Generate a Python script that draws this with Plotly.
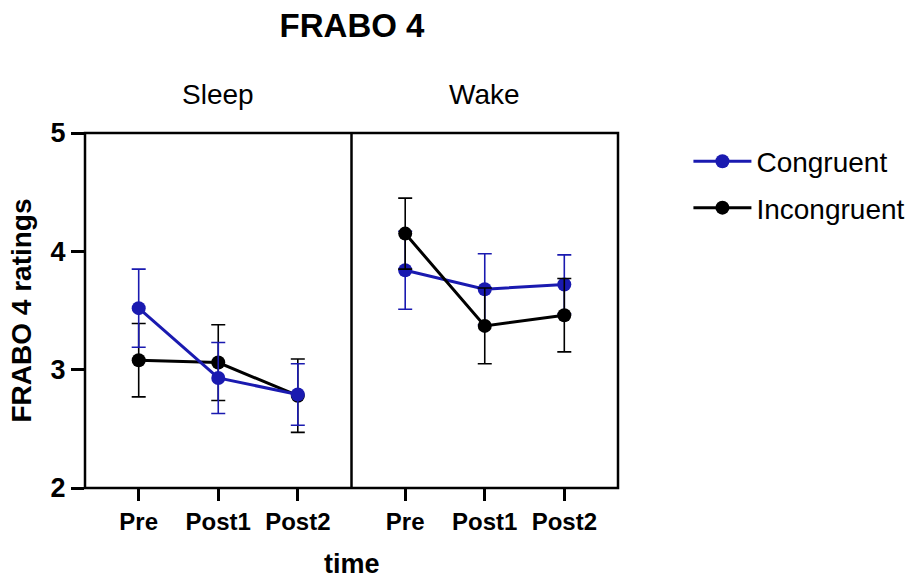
import plotly.graph_objects as go
from plotly.subplots import make_subplots

categories = ["Pre", "Post1", "Post2"]
panels = ["Sleep", "Wake"]

sleep_congruent = [3.52, 2.93, 2.79]
sleep_congruent_err = [0.33, 0.30, 0.26]
sleep_incongruent = [3.08, 3.06, 2.78]
sleep_incongruent_err = [0.31, 0.32, 0.31]

wake_congruent = [3.84, 3.68, 3.72]
wake_congruent_err = [0.33, 0.30, 0.25]
wake_incongruent = [4.15, 3.37, 3.46]
wake_incongruent_err = [0.30, 0.32, 0.31]

y_ticks = [2, 3, 4, 5]

BLUE = "#1a1ab0"
BLACK = "#000000"
FONT = "Liberation Sans, Arial, sans-serif"

fig = make_subplots(rows=1, cols=2, shared_yaxes=True, horizontal_spacing=0,
                    subplot_titles=panels)

series = [
    (1, sleep_incongruent, sleep_incongruent_err, BLACK, "Incongruent", False),
    (1, sleep_congruent, sleep_congruent_err, BLUE, "Congruent", False),
    (2, wake_congruent, wake_congruent_err, BLUE, "Congruent", True),
    (2, wake_incongruent, wake_incongruent_err, BLACK, "Incongruent", True),
]
for col, vals, errs, color, name, show in series:
    fig.add_trace(go.Scatter(
        x=categories, y=vals, mode="lines+markers", name=name,
        line=dict(color=color, width=3),
        marker=dict(color=color, size=14),
        error_y=dict(type="data", array=errs, color=color, thickness=1.6, width=7),
        showlegend=show, legendgroup=name,
        legendrank=1 if name == "Congruent" else 2,
    ), row=1, col=col)

for c in (1, 2):
    fig.update_xaxes(type="category", range=[-0.675, 2.675], showline=False,
                     ticks="outside", ticklen=12, tickwidth=2.5, tickcolor="black",
                     showgrid=False, zeroline=False,
                     tickfont=dict(family=FONT, size=24, color="black", weight="bold"),
                     row=1, col=c)
    fig.update_yaxes(range=[2, 5], showline=False, showgrid=False, zeroline=False,
                     row=1, col=c)

fig.update_yaxes(tickvals=y_ticks, ticks="outside", ticklen=13, tickwidth=2.5,
                 tickcolor="black",
                 tickfont=dict(family=FONT, size=27, color="black", weight="bold"),
                 title=dict(text="FRABO 4 ratings", standoff=10,
                            font=dict(family=FONT, size=28, color="black", weight="bold")),
                 row=1, col=1)

# panel frames
frame = dict(color="black", width=2.5)
fig.add_shape(type="rect", xref="paper", yref="paper", x0=0, x1=1, y0=0, y1=1,
              line=frame, layer="above")
fig.add_shape(type="line", xref="x domain", yref="paper", x0=1, x1=1, y0=0, y1=1,
              line=frame, layer="above")

for ann in fig.layout.annotations:
    ann.font = dict(family=FONT, size=28, color="black")
    ann.yshift = 21

fig.add_annotation(text="time", xref="paper", yref="paper", x=0.5, y=0,
                   yshift=-76, showarrow=False, yanchor="middle",
                   font=dict(family=FONT, size=27, color="black", weight="bold"))

fig.update_layout(
    width=921, height=578,
    margin=dict(l=85, r=302, t=133, b=90),
    plot_bgcolor="white", paper_bgcolor="white",
    title=dict(text="FRABO 4", x=(85 + 619) / 2 / 921, xanchor="center", y=1 - 25 / 578,
               yanchor="middle",
               font=dict(family=FONT, size=33, color="black", weight="bold")),
    legend=dict(x=1.13, y=0.99, xanchor="left", yanchor="top",
                font=dict(family=FONT, size=28, color="black"),
                tracegroupgap=7, itemwidth=58),
)

fig.write_html("out.html")
